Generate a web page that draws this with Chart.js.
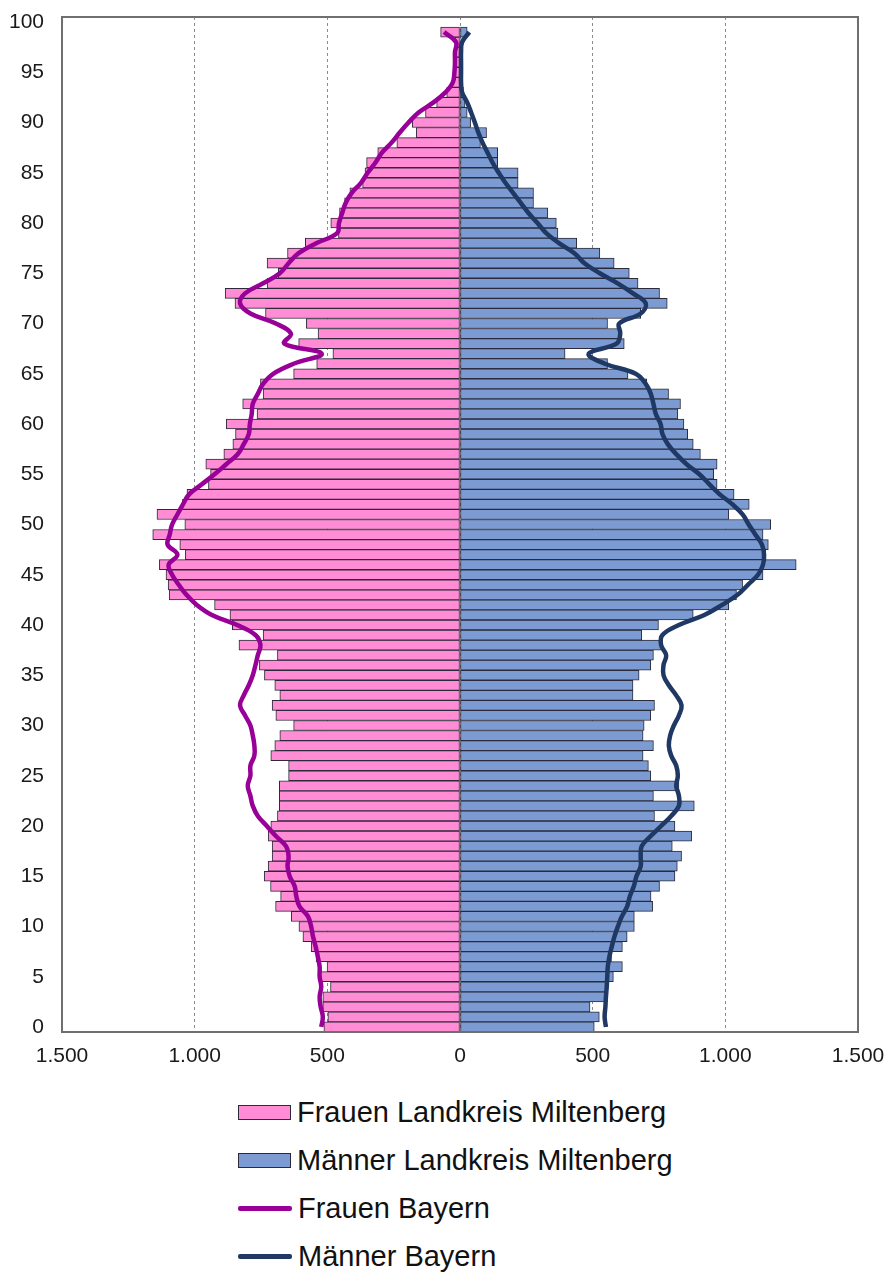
<!DOCTYPE html>
<html lang="de">
<head>
<meta charset="utf-8">
<title>Bevölkerungspyramide Landkreis Miltenberg</title>
<script src="https://cdn.jsdelivr.net/npm/chart.js@4.4.1/dist/chart.umd.min.js"></script>
<style>
  html, body { margin: 0; background: #fff; overflow: hidden; font-family: "Liberation Sans", Arial, sans-serif; }
  #wrap { position: relative; width: 887px; height: 1082px; }
  #legend { position: absolute; left: 238px; top: 1088px; }
  .item { height: 48px; display: flex; align-items: center; font-size: 29px; color: #111; }
  .box { width: 51px; height: 13px; border: 1.5px solid #2a2a3a; margin-right: 6px; }
  .line { width: 54px; height: 5px; margin-right: 6px; border-radius: 2px; }
</style>
</head>
<body>
<div id="wrap"><canvas id="pyramid"></canvas></div>
<div id="legend"></div>

<script>
// Ages 0..100
const ages = [];
for (let a = 0; a <= 100; a++) ages.push(a);

// Landkreis Miltenberg
const frauenMil = [513, 498, 517, 517, 488, 532, 501, 542, 561, 592,
  607, 636, 695, 676, 714, 738, 723, 708, 708, 723,
  713, 688, 681, 681, 681, 646, 646, 713, 698, 679,
  627, 694, 708, 679, 698, 737, 756, 688, 833, 742,
  858, 867, 925, 1096, 1100, 1108, 1133, 1035, 1056, 1158,
  1037, 1142, 1046, 1029, 948, 940, 958, 890, 856, 846,
  881, 765, 819, 742, 752, 627, 540, 479, 608, 535,
  579, 733, 848, 885, 727, 685, 727, 650, 583, 458,
  487, 454, 435, 415, 367, 358, 352, 310, 238, 165,
  180, 130, 88, 50, 30, 23, 20, 19, 19, 73, 0];

const maennerMil = [506, 525, 490, 546, 549, 578, 612, 571, 612, 630,
  657, 657, 726, 720, 752, 810, 819, 835, 800, 873,
  810, 733, 883, 729, 825, 719, 710, 690, 729, 690,
  694, 719, 733, 652, 652, 675, 719, 729, 763, 685,
  748, 879, 1013, 1042, 1065, 1142, 1267, 1152, 1162, 1142,
  1171, 1013, 1090, 1033, 969, 956, 969, 906, 879, 858,
  844, 821, 831, 786, 704, 633, 556, 396, 619, 604,
  556, 681, 781, 752, 671, 638, 581, 527, 440, 369,
  363, 331, 277, 277, 219, 219, 142, 142, 77, 100,
  40, 27, 19, 13, 6, 5, 3, 3, 4, 27, 0];

// Bayern, scaled to the Landkreis
const frauenBay = [523, 517, 525, 529, 523, 529, 529, 536, 544, 554,
  561, 573, 605, 617, 623, 642, 650, 646, 656, 694,
  728, 762, 781, 790, 800, 790, 790, 775, 775, 781,
  790, 810, 829, 815, 796, 781, 771, 762, 752, 771,
  840, 935, 992, 1031, 1060, 1085, 1098, 1065, 1102, 1094,
  1085, 1065, 1044, 1021, 973, 925, 881, 838, 815, 796,
  792, 785, 781, 762, 742, 704, 627, 521, 662, 637,
  694, 790, 829, 810, 742, 679, 646, 608, 540, 463,
  456, 444, 431, 408, 373, 348, 319, 294, 258, 227,
  194, 156, 100, 55, 27, 21, 19, 19, 15, 60, null];

const maennerBay = [550, 545, 548, 550, 553, 555, 557, 563, 572, 582,
  595, 610, 630, 640, 655, 665, 681, 681, 685, 719,
  758, 796, 825, 825, 815, 821, 815, 796, 787, 792,
  806, 825, 835, 815, 787, 767, 767, 777, 758, 763,
  825, 921, 988, 1046, 1085, 1123, 1142, 1146, 1138, 1113,
  1088, 1065, 1027, 979, 940, 902, 854, 815, 783, 763,
  756, 738, 729, 719, 700, 662, 546, 485, 590, 604,
  600, 681, 700, 652, 594, 527, 469, 431, 373, 325,
  292, 258, 229, 200, 171, 146, 123, 104, 85, 69,
  56, 42, 27, 8, 4, 4, 4, 4, 8, 35, null];

const xTicks = [-1500, -1000, -500, 0, 500, 1000, 1500];

const colors = {
  frauen: "#ff8cd4",
  maenner: "#7b9bd2",
  frauenLine: "#980098",
  maennerLine: "#1f3864",
  barBorder: "#2a2a3a"
};

function fmt(v) {
  const n = Math.abs(v);
  return n >= 1000 ? Math.floor(n / 1000) + "." + String(n % 1000).padStart(3, "0") : String(n);
}

// frame round the plot area
const framePlugin = {
  id: "frame",
  afterDatasetsDraw(chart) {
    const a = chart.chartArea;
    const ctx = chart.ctx;
    ctx.save();
    ctx.strokeStyle = "#6f6f6f";
    ctx.lineWidth = 2;
    ctx.strokeRect(a.left, a.top, a.right - a.left, a.bottom - a.top);
    ctx.restore();
  }
};

const tickFont = { family: "'Liberation Sans', Arial, sans-serif", size: 21 };

new Chart(document.getElementById("pyramid"), {
  type: "bar",
  data: {
    labels: ages,
    datasets: [
      {
        type: "line",
        label: "Frauen Bayern",
        data: frauenBay.map(v => v === null ? null : -v),
        borderColor: colors.frauenLine,
        borderWidth: 4.5,
        pointRadius: 0,
        tension: 0.4,
        order: 0
      },
      {
        type: "line",
        label: "Männer Bayern",
        data: maennerBay,
        borderColor: colors.maennerLine,
        borderWidth: 4.5,
        pointRadius: 0,
        tension: 0.4,
        order: 0
      },
      {
        label: "Frauen Landkreis Miltenberg",
        data: frauenMil.map(v => -v),
        backgroundColor: colors.frauen,
        borderColor: colors.barBorder,
        borderWidth: 1,
        borderSkipped: false,
        order: 1
      },
      {
        label: "Männer Landkreis Miltenberg",
        data: maennerMil,
        backgroundColor: colors.maenner,
        borderColor: colors.barBorder,
        borderWidth: 1,
        borderSkipped: false,
        order: 1
      }
    ]
  },
  options: {
    indexAxis: "y",
    responsive: true,
    maintainAspectRatio: false,
    animation: false,
    layout: { padding: { top: 17, right: 29, left: 0, bottom: 0 } },
    datasets: {
      bar: { barPercentage: 1, categoryPercentage: 1, grouped: false }
    },
    plugins: {
      legend: { display: false },
      tooltip: { enabled: false }
    },
    scales: {
      x: {
        type: "linear",
        min: -1500,
        max: 1500,
        afterBuildTicks: scale => { scale.ticks = xTicks.map(v => ({ value: v })); },
        afterFit: scale => {
          scale.height = 50;
          scale.paddingLeft = 0;
          scale.paddingRight = 0;
        },
        grid: {
          drawTicks: false,
          color: c => (Math.abs(c.tick.value) === 1500 ? "rgba(0,0,0,0)" : "#8a8a8a"),
          lineWidth: 1
        },
        border: { display: false, dash: [3, 3] },
        ticks: { padding: 12, color: "#1a1a1a", font: tickFont, callback: v => fmt(v) }
      },
      y: {
        type: "category",
        reverse: true,
        afterFit: scale => {
          scale.width = 62;
          scale.paddingTop = 0;
          scale.paddingBottom = 0;
        },
        grid: { display: false },
        border: { display: false },
        ticks: {
          autoSkip: false,
          padding: 10,
          color: "#1a1a1a",
          font: tickFont,
          callback: (val, i) => (ages[i] % 5 === 0 ? String(ages[i]) : "")
        }
      }
    }
  },
  plugins: [framePlugin]
});

// Legend
const legendItems = [
  { text: "Frauen Landkreis Miltenberg", kind: "box", color: colors.frauen },
  { text: "Männer Landkreis Miltenberg", kind: "box", color: colors.maenner },
  { text: "Frauen Bayern", kind: "line", color: colors.frauenLine },
  { text: "Männer Bayern", kind: "line", color: colors.maennerLine }
];
const legend = document.getElementById("legend");
legendItems.forEach(it => {
  const row = document.createElement("div");
  row.className = "item";
  const sw = document.createElement("span");
  sw.className = it.kind;
  sw.style.background = it.color;
  const label = document.createElement("span");
  label.textContent = it.text;
  row.appendChild(sw);
  row.appendChild(label);
  legend.appendChild(row);
});
</script>
</body>
</html>
